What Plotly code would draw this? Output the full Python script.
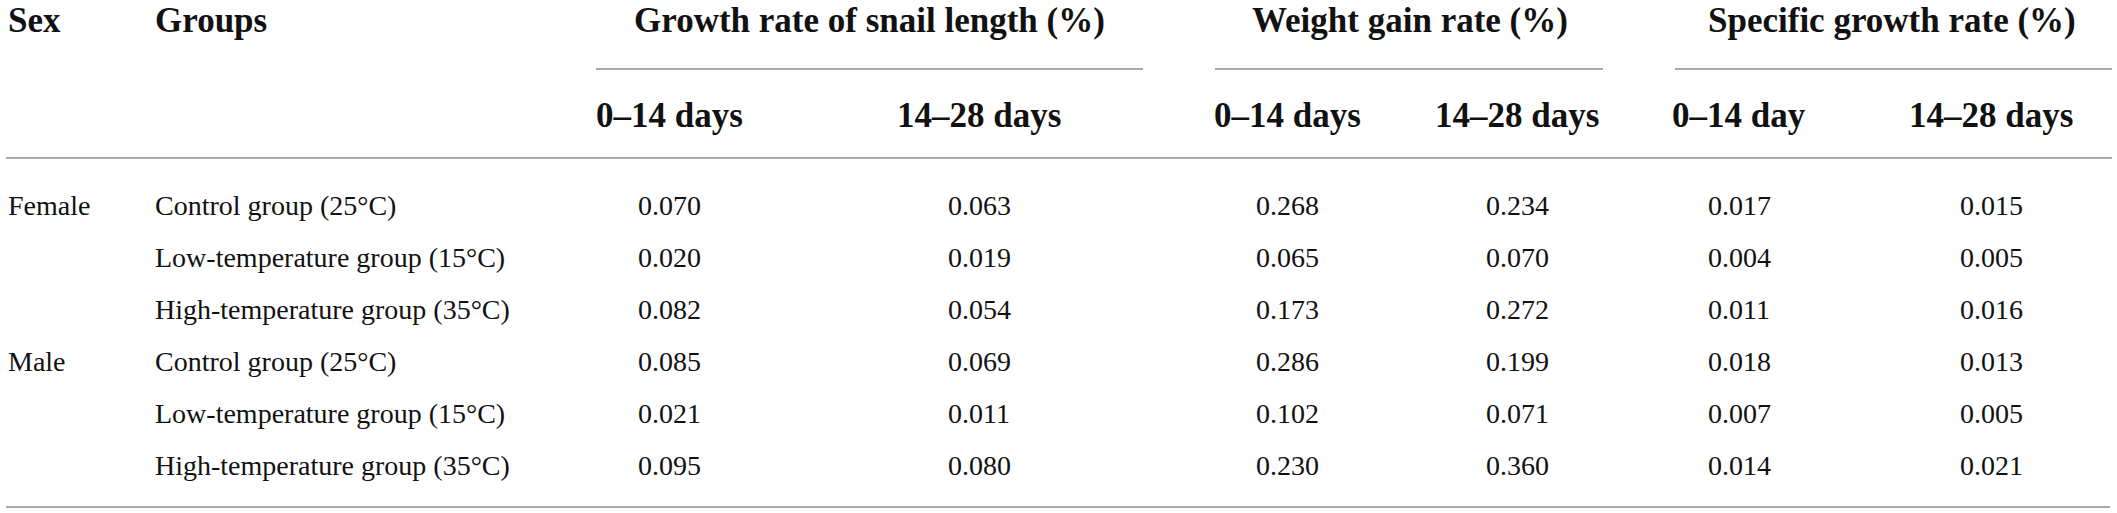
import plotly.graph_objects as go

sexes = ["Female", "", "", "Male", "", ""]
groups = [
    "Control group (25°C)",
    "Low-temperature group (15°C)",
    "High-temperature group (35°C)",
    "Control group (25°C)",
    "Low-temperature group (15°C)",
    "High-temperature group (35°C)",
]
header_groups = ["Growth rate of snail length (%)", "Weight gain rate (%)", "Specific growth rate (%)"]
sub_headers = ["0–14 days", "14–28 days", "0–14 days", "14–28 days", "0–14 day", "14–28 days"]

length_0_14 = ["0.070", "0.020", "0.082", "0.085", "0.021", "0.095"]
length_14_28 = ["0.063", "0.019", "0.054", "0.069", "0.011", "0.080"]
weight_0_14 = ["0.268", "0.065", "0.173", "0.286", "0.102", "0.230"]
weight_14_28 = ["0.234", "0.070", "0.272", "0.199", "0.071", "0.360"]
sgr_0_14 = ["0.017", "0.004", "0.011", "0.018", "0.007", "0.014"]
sgr_14_28 = ["0.015", "0.005", "0.016", "0.013", "0.005", "0.021"]

columns = [length_0_14, length_14_28, weight_0_14, weight_14_28, sgr_0_14, sgr_14_28]

W, H = 2117, 513
FONT = "Liberation Serif"
col_x = [669, 979, 1287, 1517, 1739, 1991]
group_x = [869, 1410, 1892]
group_line = [(596, 1143), (1215, 1603), (1675, 2112)]
row_y = [205, 257, 309, 361, 413, 465]
head1_y, head2_y = 20, 115
line_col = "#a9a9a9"

ann = []
def txt(x, y, s, size, bold=False, xanchor="center"):
    ann.append(dict(x=x, y=y, xref="x", yref="y", text=("<b>%s</b>" % s) if bold else s,
                    showarrow=False, xanchor=xanchor, yanchor="middle",
                    font=dict(family=FONT, size=size, color="#111111")))

txt(6, head1_y, "Sex", 35, True, "left")
txt(153, head1_y, "Groups", 35, True, "left")
for gx, g in zip(group_x, header_groups):
    txt(gx, head1_y, g, 35, True)
for cx, s in zip(col_x, sub_headers):
    txt(cx, head2_y, s, 35, True)
for i, y in enumerate(row_y):
    if sexes[i]:
        txt(6, y, sexes[i], 28, False, "left")
    txt(153, y, groups[i], 28, False, "left")
    for cx, col in zip(col_x, columns):
        txt(cx, y, col[i], 28)

shapes = []
for x0, x1 in group_line:
    shapes.append(dict(type="line", xref="x", yref="y", x0=x0, x1=x1, y0=69, y1=69,
                       line=dict(color=line_col, width=2)))
shapes.append(dict(type="line", xref="x", yref="y", x0=6, x1=2112, y0=158, y1=158,
                   line=dict(color=line_col, width=2)))
shapes.append(dict(type="line", xref="x", yref="y", x0=6, x1=2110, y0=507, y1=507,
                   line=dict(color=line_col, width=2)))

fig = go.Figure()
fig.update_layout(
    width=W, height=H, margin=dict(l=0, r=0, t=0, b=0),
    paper_bgcolor="white", plot_bgcolor="white",
    xaxis=dict(range=[0, W], visible=False, fixedrange=True),
    yaxis=dict(range=[H, 0], visible=False, fixedrange=True),
    annotations=ann, shapes=shapes, showlegend=False,
)
fig.write_html("out.html", config={"displayModeBar": False},
               post_script="document.body.style.margin='0';document.body.style.overflow='hidden';")
